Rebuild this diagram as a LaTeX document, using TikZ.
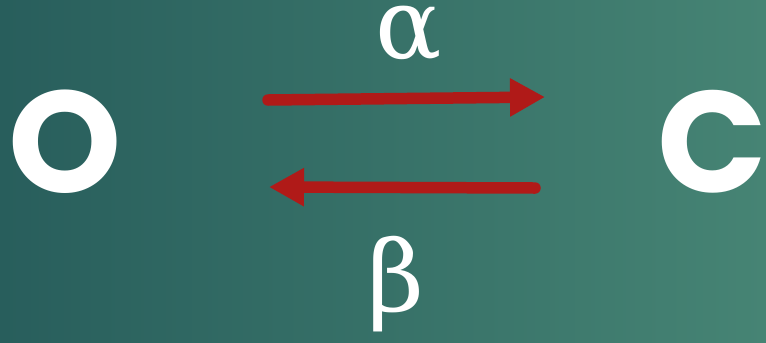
\documentclass[tikz,border=0pt]{standalone}
\usepackage{fontspec}
\usepackage{tikz}
\usetikzlibrary{arrows.meta}
\usetikzlibrary{positioning}
\newfontfamily\statefont{Poppins}
\newfontfamily\ratefont{DejaVu Serif}
\definecolor{tealdark}{RGB}{40,94,92}
\definecolor{teallight}{RGB}{70,132,116}
\definecolor{ratered}{RGB}{176,26,24}
\tikzset{
  state/.style={text=white, inner sep=0pt, font=\statefont\bfseries\fontsize{82}{82}\selectfont},
  rate/.style={text=white, inner sep=0pt, anchor=base, font=\ratefont\fontsize{56}{56}\selectfont},
  flux/.style={draw=ratered, line width=0.23cm, line cap=round,
    -{Triangle[length=0.7cm,width=0.72cm]}}
}

\begin{document}
\begin{tikzpicture}[x=0.02cm,y=-0.02cm]
        \shade[left color=tealdark, right color=teallight] (0,0) rectangle (766,342);
        \useasboundingbox (0,0) rectangle (766,342);
        % open and closed states
        \node[state] (o) at (65,142) {O};
        \node[state] (c) at (712,142) {C};
        % ends of the two transitions
        \coordinate (a1) at (268,100);
        \coordinate (a2) at (545,97);
        \coordinate (b1) at (535,188);
        \coordinate (b2) at (269,187);
        \draw[flux] (a1) -- (a2);
        \draw[flux] (b1) -- (b2);
        % rate constants
        \node[rate] (alpha) at (409,58) {α};
        \node[rate] (beta) at (396,311) {β};
\end{tikzpicture}
\end{document}
